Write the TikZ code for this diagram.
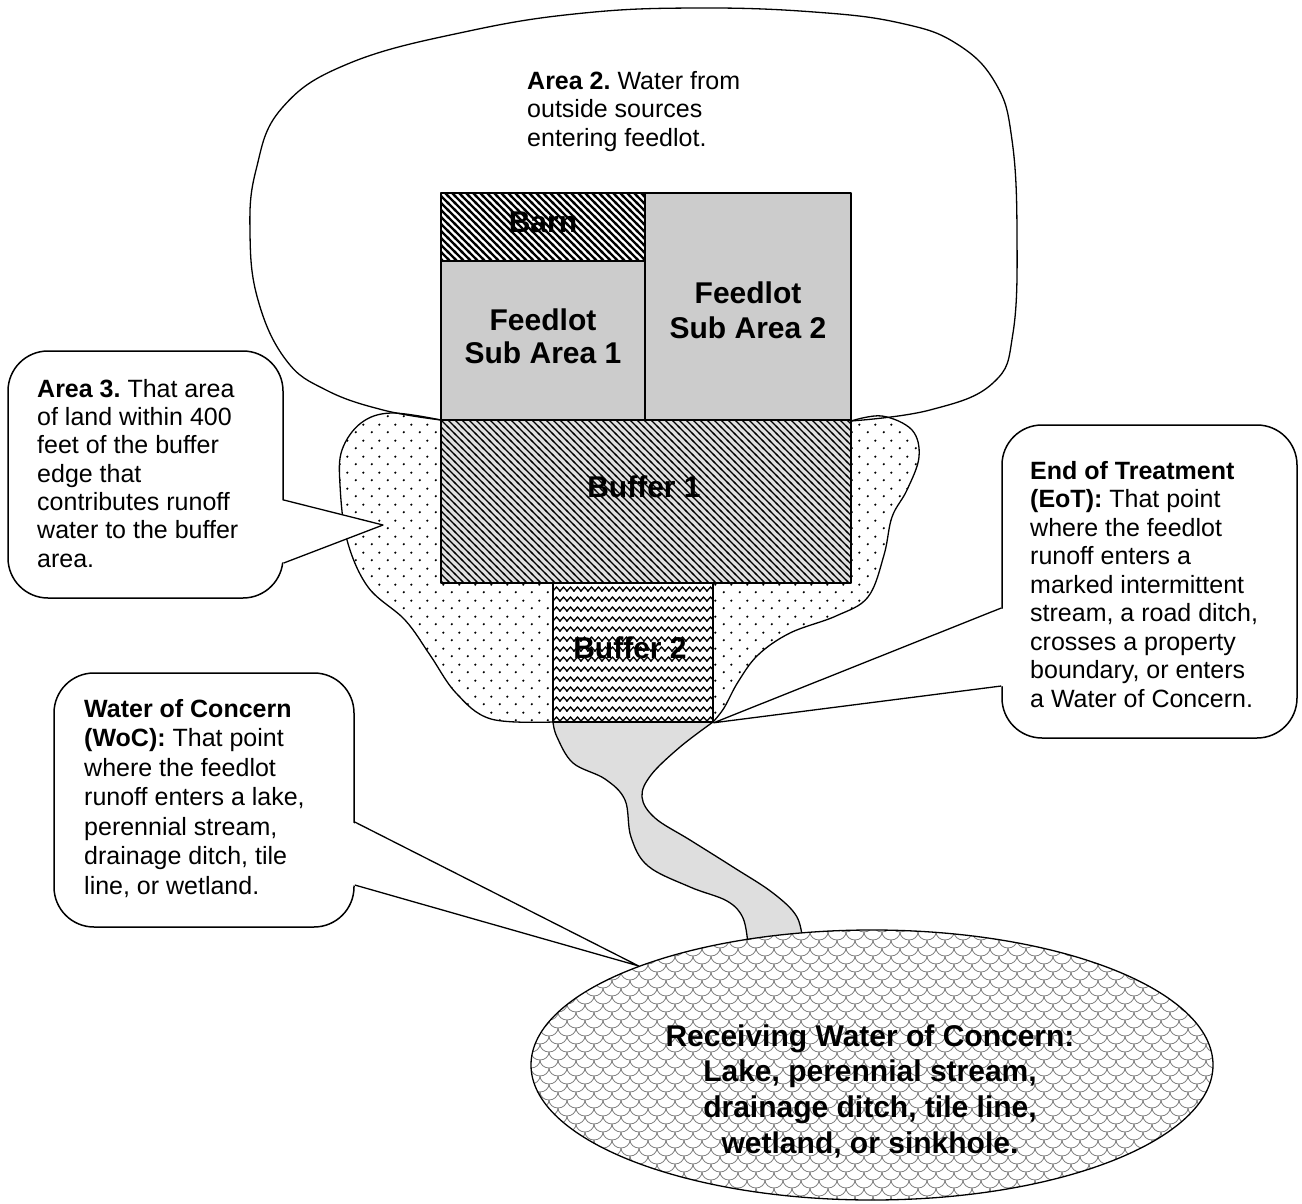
\documentclass[tikz,border=0pt]{standalone}
\usepackage{fontspec}
\setmainfont{Liberation Sans}
\usetikzlibrary{patterns,calc,shapes.geometric}
\frenchspacing

\pgfdeclarepatternformonly{barnhatch}{\pgfqpoint{-2pt}{-2pt}}{\pgfqpoint{9pt}{9pt}}{\pgfqpoint{7pt}{7pt}}{%
  \pgfsetlinewidth{2.2pt}%
  \pgfpathmoveto{\pgfqpoint{-1pt}{8pt}}\pgfpathlineto{\pgfqpoint{8pt}{-1pt}}%
  \pgfusepath{stroke}}
\pgfdeclarepatternformonly{bufhatch}{\pgfqpoint{-2pt}{-2pt}}{\pgfqpoint{9pt}{9pt}}{\pgfqpoint{7pt}{7pt}}{%
  \pgfsetlinewidth{1.2pt}%
  \pgfpathmoveto{\pgfqpoint{-1pt}{8pt}}\pgfpathlineto{\pgfqpoint{8pt}{-1pt}}%
  \pgfusepath{stroke}}
\pgfdeclarepatternformonly{zigzag}{\pgfqpoint{-1pt}{-1pt}}{\pgfqpoint{8pt}{11pt}}{\pgfqpoint{7pt}{10pt}}{%
  \pgfsetlinewidth{1.3pt}\pgfsetmiterjoin
  \pgfpathmoveto{\pgfqpoint{-0.5pt}{2.43pt}}\pgfpathlineto{\pgfqpoint{0pt}{3pt}}%
  \pgfpathlineto{\pgfqpoint{3.5pt}{7pt}}\pgfpathlineto{\pgfqpoint{7pt}{3pt}}%
  \pgfpathlineto{\pgfqpoint{7.5pt}{3.57pt}}\pgfusepath{stroke}}
\pgfdeclarepatternformonly{sparsedots}{\pgfqpoint{0pt}{0pt}}{\pgfqpoint{16pt}{16pt}}{\pgfqpoint{16pt}{16pt}}{%
  \pgfpathcircle{\pgfqpoint{4pt}{4pt}}{1.3pt}\pgfpathcircle{\pgfqpoint{12pt}{12pt}}{1.3pt}\pgfusepath{fill}}
\pgfdeclarepatternformonly{scales}{\pgfqpoint{-1pt}{-1pt}}{\pgfqpoint{19pt}{17pt}}{\pgfqpoint{18pt}{16pt}}{%
  \pgfsetlinewidth{0.8pt}%
  \pgfpathmoveto{\pgfqpoint{0pt}{16pt}}\pgfpatharc{180}{360}{9pt and 8pt}%
  \pgfpathmoveto{\pgfqpoint{0pt}{0pt}}\pgfpatharc{270}{360}{9pt and 8pt}\pgfpatharc{180}{270}{9pt and 8pt}%
  \pgfusepath{stroke}}

\begin{document}
\begin{tikzpicture}[x=1pt,y=-1pt,line join=round,
  outline/.style={draw=black,line width=1.5pt},
  thinline/.style={draw=black,line width=1.3pt},
  callout/.style={draw=black,line width=1.5pt,fill=white,rounded corners=40pt,inner sep=0pt},
  bodytext/.style={anchor=north west,inner sep=0pt,align=left,font=\fontsize{25}{28.6}\selectfont},
  arealabel/.style={inner sep=0pt,align=center,font=\fontsize{30}{34}\selectfont\bfseries},
  plot/.style={outline,rectangle,inner sep=0pt}]
\useasboundingbox (0,0) rectangle (1302,1204);

% Area 2 cloud
\draw[thinline] plot[smooth,tension=0.7] coordinates {(441,420) (383,410) (326,390) (286,360) (258,300) (250,233) (256,170) (282,108) (350,63) (469,31) (584,13) (699,8) (814,12) (900,23) (957,44) (996,84) (1012,140) (1017,233) (1013,333) (993,383) (930,410) (851,421)};
\node[bodytext] (a2text) at (527,71) {\textbf{Area 2.} Water from\\outside sources\\entering feedlot.};

% Area 3 blob
\draw[thinline,pattern=sparsedots] plot[smooth,tension=0.6] coordinates {(441,420) (391,413) (361,423) (342,450) (340,485) (347,540) (368,587) (405,620) (430,655) (456,693) (491,719) (553,722)}
  -- plot[smooth,tension=0.6] coordinates {(713,722) (724,708) (738,682) (758,655) (790,633) (836,616) (868,597) (884,555) (892,517) (907,490) (919,457) (912,430) (882,416) (851,421)} -- cycle;

% stream
\draw[thinline,fill=black!13] plot[smooth,tension=0.6] coordinates {(553,722) (557,737) (573,763) (605,779) (625,800) (631,837) (648,866) (690,887) (727,901) (743,918) (748,945)}
  -- (803,945) -- plot[smooth,tension=0.6] coordinates {(803,945) (797,917) (773,893) (733,867) (690,840) (655,818) (642,797) (651,775) (680,747) (713,722)} -- cycle;

% feedlot blocks
\node[plot,minimum width=204pt,minimum height=159pt,fill=black!20] (sub1) at (543,340.5) {};
\node[plot,minimum width=206pt,minimum height=227pt,fill=black!20] (sub2) at (748,306.5) {};
\node[plot,minimum width=204pt,minimum height=68pt,preaction={fill=white},pattern=barnhatch] (barn) at (543,227) {};
\node[plot,minimum width=410pt,minimum height=163pt,preaction={fill=black!12},pattern=bufhatch] (buf1) at (646,501.5) {};
\node[plot,minimum width=160pt,minimum height=139pt,preaction={fill=white},pattern=zigzag] (buf2) at (633,652.5) {};

\node[arealabel] (barnlbl) at (543,222) {Barn};
\node[arealabel,font=\fontsize{30}{33}\selectfont\bfseries] (sub1lbl) at (543,336.5) {Feedlot\\Sub Area 1};
\node[arealabel,font=\fontsize{30}{35}\selectfont\bfseries] (sub2lbl) at (748,310.5) {Feedlot\\Sub Area 2};
\node[arealabel] (buf1lbl) at (644,487) {Buffer 1};
\node[arealabel] (buf2lbl) at (630,648) {Buffer 2};

% receiving water
\node[ellipse,thinline,minimum width=682pt,minimum height=270pt,inner sep=0pt,preaction={fill=white},pattern=scales,pattern color=black!50] (rw) at (872,1065) {};
\node[arealabel,font=\fontsize{30}{35.7}\selectfont\bfseries] (rwtext) at (870,1091) {Receiving Water of Concern:\\Lake, perennial stream,\\drainage ditch, tile line,\\wetland, or sinkhole.};

% Area 3 callout
\node[callout,minimum width=275pt,minimum height=247pt] (a3box) at (145.5,474.5) {};
\coordinate (a3tip) at (383,525);
\fill[white] ($(a3box.east)+(-3,25.5)$) -- (a3tip) -- ($(a3box.east)+(-3,88.5)$) -- cycle;
\draw[thinline] ($(a3box.east)+(0,25.5)$) -- (a3tip) -- ($(a3box.east)+(0,88.5)$);
\node[bodytext,font=\fontsize{25}{28.3}\selectfont] (a3text) at (37,379) {\textbf{Area 3.} That area\\of land within 400\\feet of the buffer\\edge that\\contributes runoff\\water to the buffer\\area.};

% End of Treatment callout
\node[callout,minimum width=295pt,minimum height=313pt] (eotbox) at (1149.5,581.5) {};
\coordinate (eottip) at (buf2.south east);
\fill[white] ($(eotbox.west)+(3,26.5)$) -- (eottip) -- ($(eotbox.west)+(3,104.5)$) -- cycle;
\draw[thinline] ($(eotbox.west)+(0,26.5)$) -- (eottip) -- ($(eotbox.west)+(0,104.5)$);
\node[bodytext,font=\fontsize{25}{28.5}\selectfont] (eottext) at (1030,461) {\textbf{End of Treatment}\\\textbf{(EoT):} That point\\where the feedlot\\runoff enters a\\marked intermittent\\stream, a road ditch,\\crosses a property\\boundary, or enters\\a Water of Concern.};

% Water of Concern callout
\node[callout,minimum width=300pt,minimum height=254pt] (wocbox) at (204,800) {};
\coordinate (woctip) at (rw.157);
\fill[white] ($(wocbox.east)+(-3,22)$) -- (woctip) -- ($(wocbox.east)+(-3,85)$) -- cycle;
\draw[thinline] ($(wocbox.east)+(0,22)$) -- (woctip) -- ($(wocbox.east)+(0,85)$);
\node[bodytext,font=\fontsize{25}{29.5}\selectfont] (woctext) at (84,699) {\textbf{Water of Concern}\\\textbf{(WoC):} That point\\where the feedlot\\runoff enters a lake,\\perennial stream,\\drainage ditch, tile\\line, or wetland.};
\end{tikzpicture}
\end{document}
